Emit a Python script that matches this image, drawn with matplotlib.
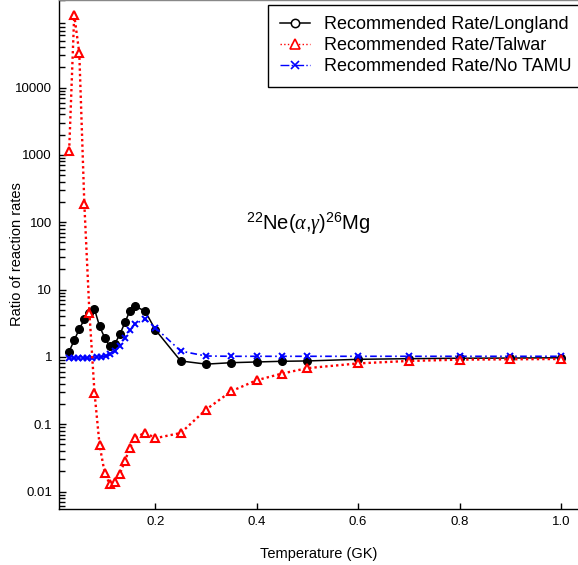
import numpy as np
import matplotlib
matplotlib.use("Agg")
import matplotlib.pyplot as plt
from matplotlib.lines import Line2D
from matplotlib.ticker import FixedLocator, LogLocator, FuncFormatter, NullFormatter

plt.rcParams['font.family'] = ['Liberation Sans', 'DejaVu Sans']
plt.rcParams['mathtext.fontset'] = 'custom'
plt.rcParams['mathtext.rm'] = 'Liberation Sans'
plt.rcParams['mathtext.it'] = 'Liberation Serif:italic'

# ---- data ----
T_longland = [0.03, 0.04, 0.05, 0.06, 0.07, 0.08, 0.09, 0.10, 0.11, 0.12, 0.13, 0.14,
              0.15, 0.16, 0.18, 0.20, 0.25, 0.30, 0.35, 0.40, 0.45, 0.50, 0.60, 0.70,
              0.80, 0.90, 1.00]
ratio_longland = [1.2, 1.77, 2.58, 3.63, 4.5, 5.1, 2.85, 1.93, 1.43, 1.56, 2.15, 3.25,
                  4.87, 5.7, 4.75, 2.53, 0.87, 0.78, 0.82, 0.84, 0.86, 0.87, 0.92, 0.94,
                  0.955, 0.96, 0.97]

T_talwar = [0.03, 0.04, 0.05, 0.06, 0.07, 0.08, 0.09, 0.10, 0.11, 0.12, 0.13, 0.14,
            0.15, 0.16, 0.18, 0.20, 0.25, 0.30, 0.35, 0.40, 0.45, 0.50, 0.60, 0.70,
            0.80, 0.90, 1.00]
ratio_talwar = [1140, 1.2e5, 3.27e4, 184, 4.5, 0.295, 0.049, 0.019, 0.0129, 0.014,
                0.0182, 0.0286, 0.0447, 0.063, 0.075, 0.062, 0.074, 0.165, 0.31, 0.45,
                0.566, 0.68, 0.80, 0.87, 0.91, 0.92, 0.93]

T_notamu = [0.03, 0.039, 0.048, 0.057, 0.066, 0.075, 0.084, 0.093, 0.102, 0.111, 0.12,
            0.13, 0.14, 0.15, 0.16, 0.18, 0.20, 0.25, 0.30, 0.35, 0.40, 0.45, 0.50,
            0.60, 0.70, 0.80, 0.90, 1.00]
ratio_notamu = [0.96, 0.96, 0.96, 0.96, 0.96, 0.96, 0.98, 1.0, 1.03, 1.1, 1.23,
                1.46, 1.93, 2.49, 3.12, 3.63, 2.72, 1.22, 1.03, 1.02, 1.02, 1.02, 1.02,
                1.02, 1.02, 1.02, 1.02, 1.02]

labels = ["Recommended Rate/Longland", "Recommended Rate/Talwar",
          "Recommended Rate/No TAMU"]
ytick_values = [0.01, 0.1, 1, 10, 100, 1000, 10000]
xtick_values = [0.2, 0.4, 0.6, 0.8, 1.0]

# ---- figure ----
W, H = 578, 565
fig = plt.figure(figsize=(W / 100, H / 100), dpi=100)
ax = fig.add_axes([59 / W, (H - 509) / H, 1 - 59 / W, 509 / H])

ax.plot(T_longland, ratio_longland, color='black', lw=1.1, ls='-',
        marker='o', ms=5.5, mfc='black', mec='black', zorder=3)
ax.plot(T_notamu, ratio_notamu, color='#0000ff', lw=1.2, ls=(0, (4, 2, 1, 2)),
        marker='x', ms=4.5, mew=1.4, zorder=4)
ax.plot(T_talwar, ratio_talwar, color='#ff0000', lw=1.7, ls=(0, (1, 1.3)),
        marker='^', ms=6, mfc='white', mec='#ff0000', mew=1.5, zorder=5)

ax.set_yscale('log')
ax.set_xlim(0.01, 1.0335)
ax.set_ylim(0.0055, 2e5)

ax.yaxis.set_major_locator(FixedLocator(ytick_values))
ax.yaxis.set_major_formatter(FuncFormatter(lambda v, p: '%g' % v))
ax.yaxis.set_minor_locator(LogLocator(base=10, subs=np.arange(2, 10), numticks=100))
ax.yaxis.set_minor_formatter(NullFormatter())
ax.xaxis.set_major_locator(FixedLocator(xtick_values))
ax.xaxis.set_major_formatter(FuncFormatter(lambda v, p: '%.1f' % v))

ax.tick_params(axis='both', which='both', direction='in', labelsize=9.5,
               width=1.0, color='black', top=False, right=False)
ax.tick_params(axis='y', which='major', length=5, pad=5)
ax.tick_params(axis='y', which='minor', length=4)
ax.tick_params(axis='x', which='major', length=4, pad=5)

for s in ['left', 'bottom']:
    ax.spines[s].set_linewidth(1.0)
ax.spines['right'].set_visible(False)
ax.spines['top'].set_linewidth(1.0)
ax.spines['top'].set_color('#888888')

ax.set_xlabel('Temperature (GK)', fontsize=10.5)
ax.xaxis.set_label_coords(0.5, -0.074)
ax.set_ylabel('Ratio of reaction rates', fontsize=10.5)
ax.yaxis.set_label_coords(-0.068, 0.5)

ax.text(0.4807, 0.548, r'$^{22}$Ne($\alpha$,$\gamma$)$^{26}$Mg', transform=ax.transAxes,
        ha='center', va='baseline', fontsize=14.5)

handles = [
    Line2D([], [], color='black', lw=1.1, ls='-', marker='o', ms=6, mfc='white', mec='black', mew=1.1),
    Line2D([], [], color='#ff0000', lw=1.0, ls=':', marker='^', ms=7, mfc='white', mec='#ff0000', mew=1.2),
    Line2D([], [], color='#0000ff', lw=1.0, ls='-.', marker='x', ms=6, mew=1.2),
]
leg = ax.legend(handles, labels, loc='lower left',
                bbox_to_anchor=(268 / W, 1 - 86.7 / H), bbox_transform=fig.transFigure,
                borderaxespad=0, borderpad=0.64, handlelength=1.7, handletextpad=0.77,
                labelspacing=0.22, fontsize=13, frameon=True, fancybox=False,
                framealpha=1, edgecolor='black')
leg.get_frame().set_linewidth(1.0)

fig.savefig('out.png', dpi=100)
